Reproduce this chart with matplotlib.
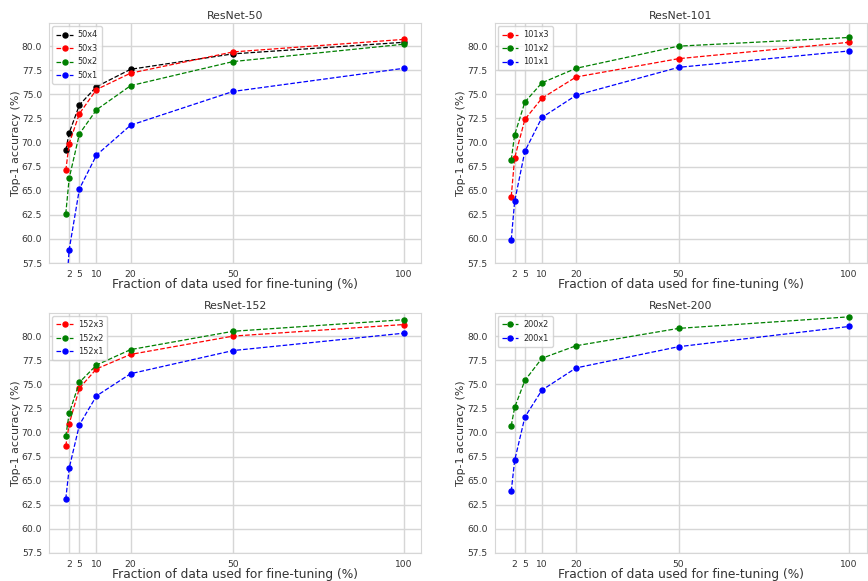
import numpy as np
import matplotlib
matplotlib.use("Agg")
import matplotlib.pyplot as plt
import seaborn as sns

# fraction of labelled data used for fine-tuning (%)
fractions = [1, 2, 5, 10, 20, 50, 100]
tick_positions = [2, 5, 10, 20, 50, 100]

# ResNet-50
r50_x4 = [69.2, 71.0, 73.9, 75.8, 77.6, 79.2, 80.4]
r50_x3 = [67.1, 69.9, 73.0, 75.5, 77.2, 79.4, 80.7]
r50_x2 = [62.6, 66.3, 70.9, 73.4, 75.9, 78.4, 80.2]
r50_x1 = [54.0, 58.9, 65.2, 68.7, 71.8, 75.3, 77.7]

# ResNet-101
r101_x3 = [64.4, 68.4, 72.4, 74.6, 76.8, 78.7, 80.4]
r101_x2 = [68.2, 70.8, 74.2, 76.2, 77.7, 80.0, 80.9]
r101_x1 = [59.9, 63.9, 69.1, 72.6, 74.9, 77.8, 79.5]

# ResNet-152
r152_x3 = [68.6, 70.9, 74.6, 76.6, 78.1, 80.0, 81.2]
r152_x2 = [69.6, 72.0, 75.2, 77.0, 78.6, 80.5, 81.7]
r152_x1 = [63.1, 66.3, 70.8, 73.8, 76.1, 78.5, 80.3]

# ResNet-200
r200_x2 = [70.7, 72.6, 75.4, 77.7, 79.0, 80.8, 82.0]
r200_x1 = [63.9, 67.1, 71.6, 74.4, 76.7, 78.9, 81.0]

panels = [
    ("ResNet-50", [("50x4", r50_x4, "black"), ("50x3", r50_x3, "red"),
                   ("50x2", r50_x2, "green"), ("50x1", r50_x1, "blue")]),
    ("ResNet-101", [("101x3", r101_x3, "red"), ("101x2", r101_x2, "green"),
                    ("101x1", r101_x1, "blue")]),
    ("ResNet-152", [("152x3", r152_x3, "red"), ("152x2", r152_x2, "green"),
                    ("152x1", r152_x1, "blue")]),
    ("ResNet-200", [("200x2", r200_x2, "green"), ("200x1", r200_x1, "blue")]),
]

sns.set_style("whitegrid")
plt.rcParams["font.family"] = ["DejaVu Sans"]

fig, axes = plt.subplots(2, 2, figsize=(8.68, 5.81), dpi=100)
fig.subplots_adjust(left=0.0565, right=0.9988, top=0.9604, bottom=0.0482,
                    wspace=0.196, hspace=0.208)

for ax, (title, series) in zip(axes.flat, panels):
    for label, vals, color in series:
        ax.plot(fractions, vals, "--o", color=color, label=label,
                linewidth=0.9, markersize=3.6)
    ax.set_title(title, fontsize=7.8, pad=3, color="#333333")
    ax.set_xticks(tick_positions)
    ax.set_xlim(-3.9, 105.2)
    ax.set_ylim(57.5, 82.4)
    ax.set_yticks(np.arange(57.5, 80.1, 2.5))
    ax.tick_params(axis="both", labelsize=6.6, pad=1.5, colors="#333333")
    ax.set_xlabel("Fraction of data used for fine-tuning (%)", fontsize=8.8,
                  labelpad=-1, color="#333333")
    ax.set_ylabel("Top-1 accuracy (%)", fontsize=7.9, labelpad=0.5, color="#333333")
    ax.grid(True, color="#d6d6d6", linewidth=1.0)
    for s in ax.spines.values():
        s.set_color("#d6d6d6")
    ax.legend(loc="upper left", fontsize=5.9, frameon=True, borderpad=0.5,
              handlelength=2.0, handletextpad=0.6, labelspacing=0.55,
              borderaxespad=0.4)

fig.savefig("out.png", dpi=100)
